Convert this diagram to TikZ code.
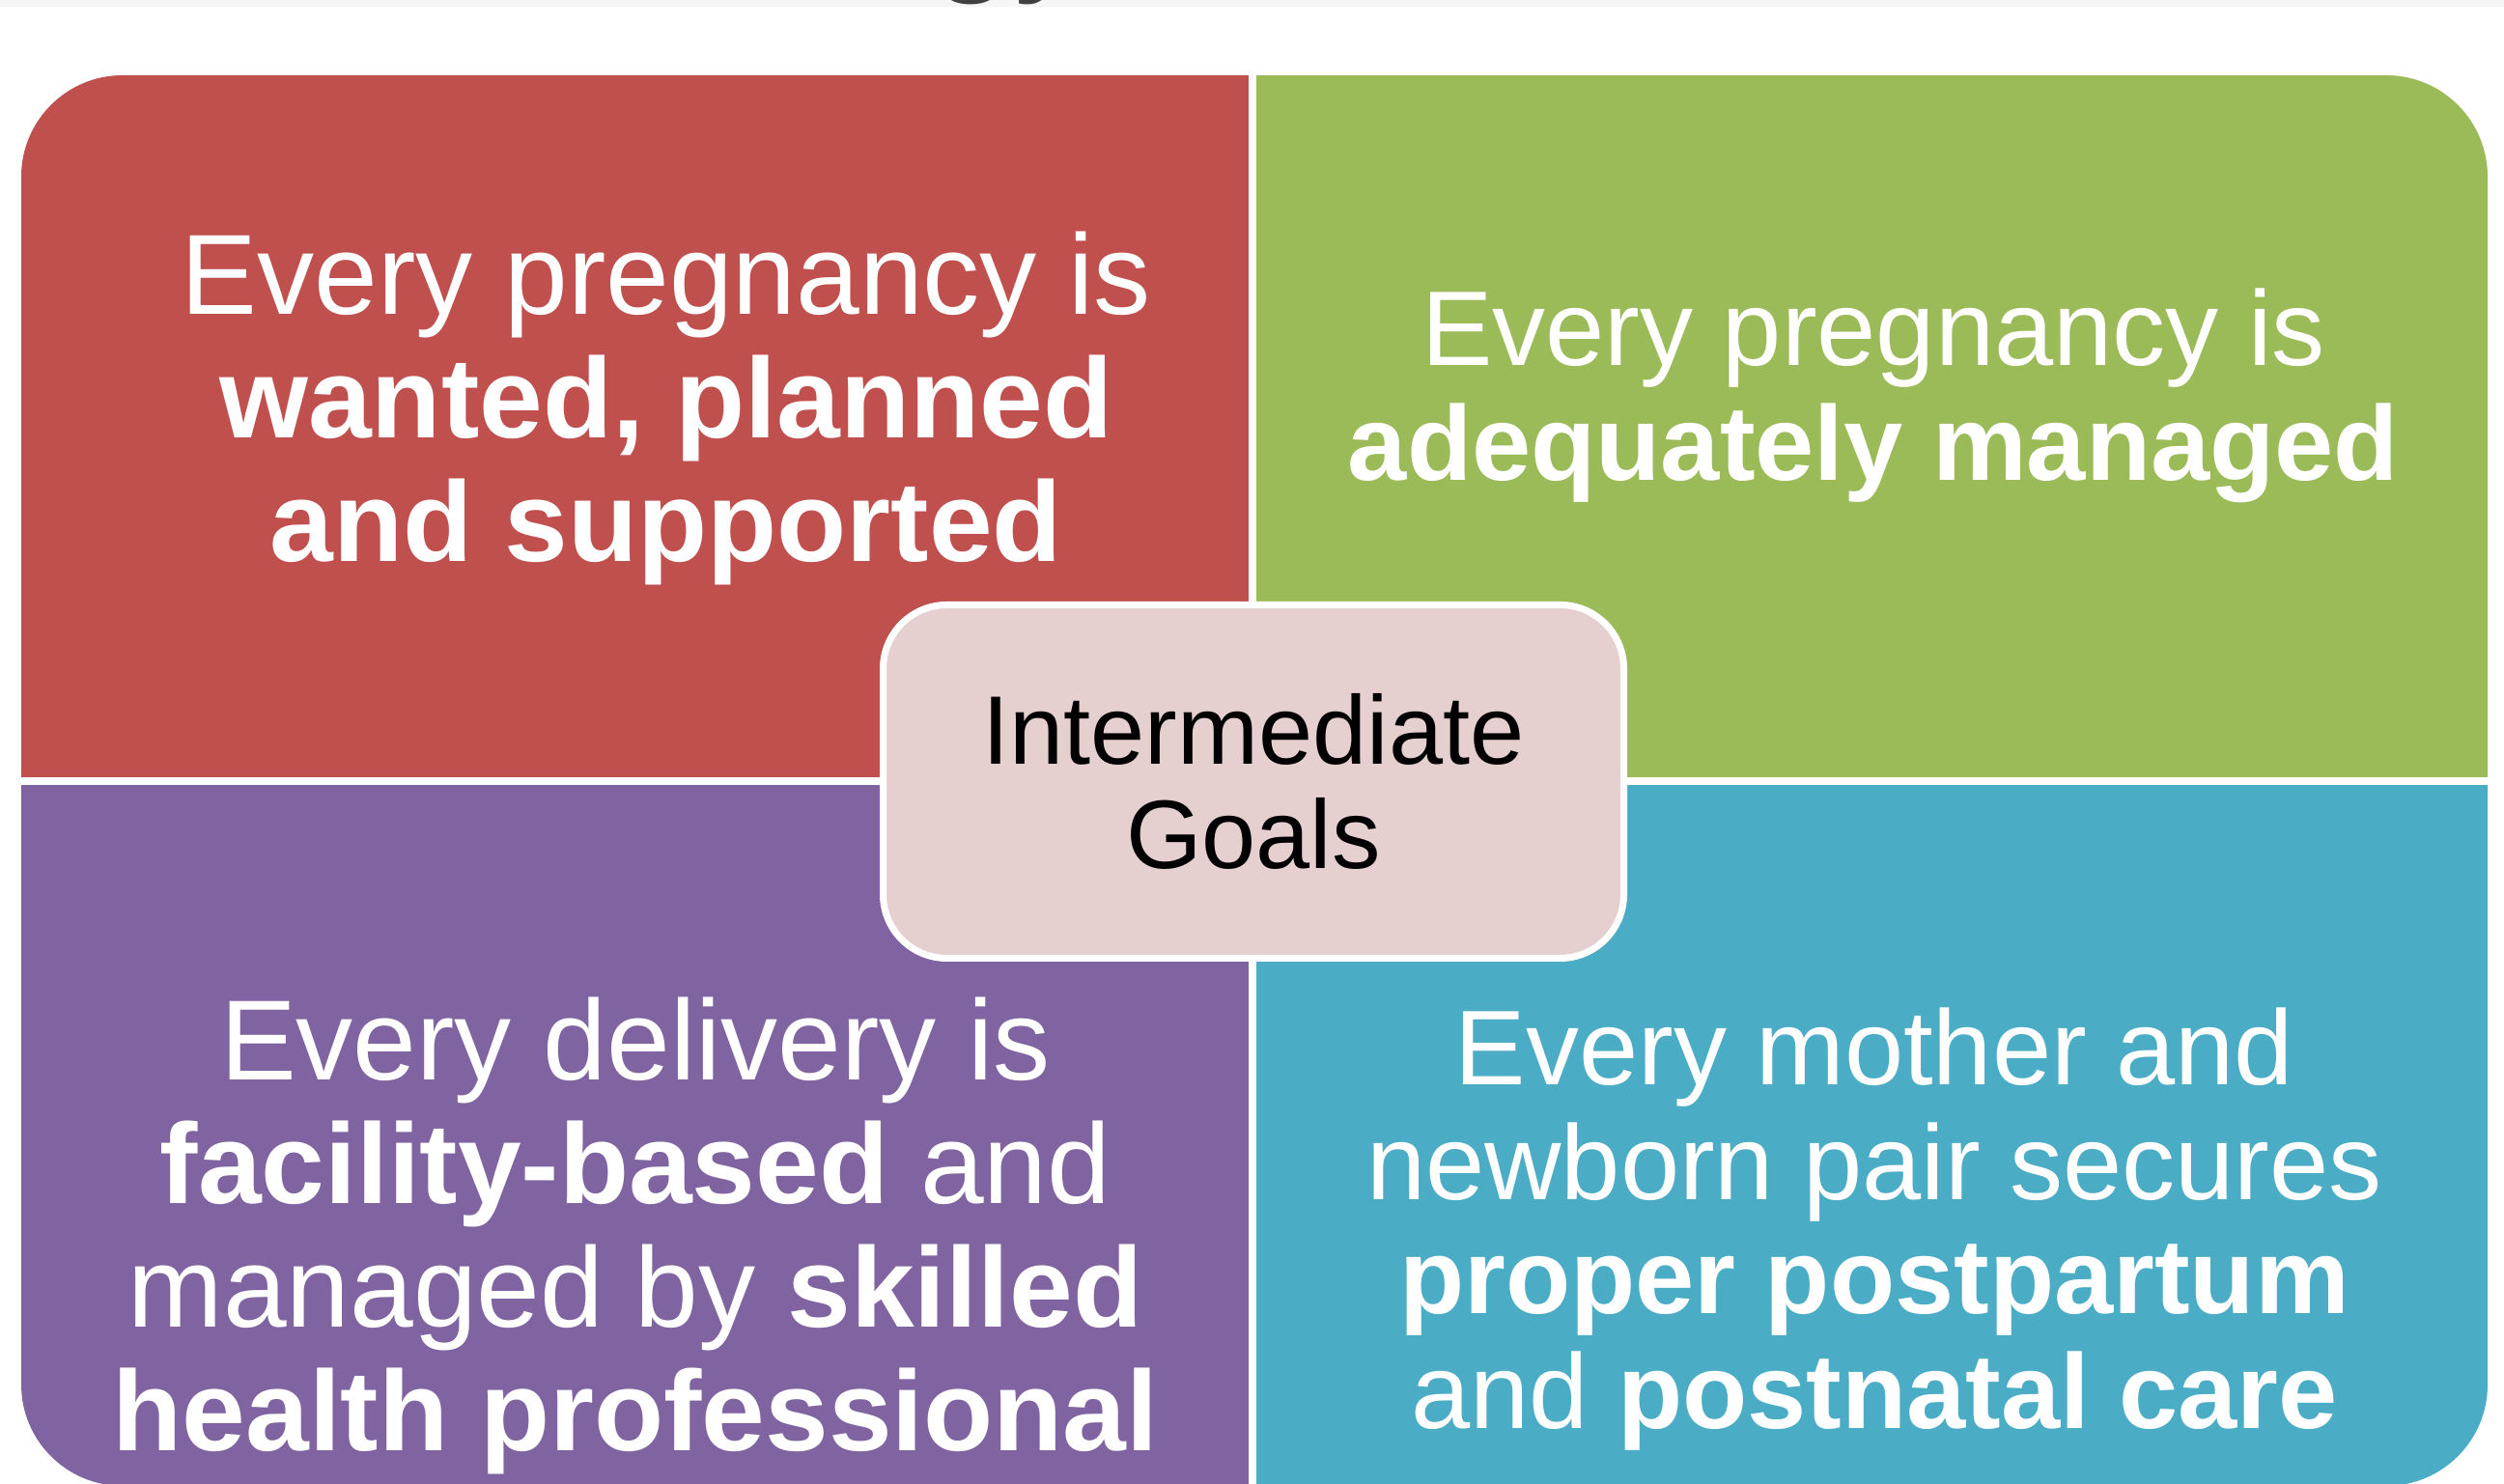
\documentclass[tikz,border=0pt]{standalone}
\usepackage{fontspec}
\setmainfont{Liberation Sans}
\definecolor{qred}{HTML}{C0504D}
\definecolor{qgreen}{HTML}{9BBB59}
\definecolor{qpurple}{HTML}{8064A2}
\definecolor{qblue}{HTML}{4BACC6}
\definecolor{cpink}{HTML}{E6CFCF}
\definecolor{titlegray}{HTML}{404040}
\definecolor{bandgray}{HTML}{F6F6F6}
\begin{document}
\begin{tikzpicture}
\tikzset{
  bigtxt/.style={text=white, align=center, inner sep=0pt, font=\fontsize{33.6pt}{36.4pt}\selectfont},
  midtxt/.style={text=white, align=center, inner sep=0pt, font=\fontsize{31.3pt}{33.8pt}\selectfont},
  centerbox/.style={draw=white, line width=0.07cm, fill=cpink, rounded corners=0.66cm,
    minimum width=7.67cm, minimum height=3.66cm, align=center, inner sep=0pt,
    font=\fontsize{28.7pt}{30.7pt}\selectfont, text=black}
}
\useasboundingbox (0,0) rectangle (25.93,15.37);
\fill[white] (0,0) rectangle (25.93,15.37);
% faint top band and clipped title fragment
\begin{scope}
\clip (0,0) rectangle (25.93,15.37);
\fill[bandgray] (0,15.30) rectangle (25.93,15.37);
\node[anchor=base west, inner sep=0pt, text=titlegray, font=\fontsize{44.4pt}{48pt}\selectfont] (title) at (9.63,15.64) {gy};
\end{scope}
% quadrants
\begin{scope}
\clip[rounded corners=1.05cm] (0.22,-0.02) rectangle (25.76,14.59);
\fill[qred] (0,7.32) rectangle (12.93,15);
\fill[qgreen] (13.01,7.32) rectangle (26,15);
\fill[qpurple] (0,-0.1) rectangle (12.93,7.24);
\fill[qblue] (13.01,-0.1) rectangle (26,7.24);
\end{scope}
% texts
\node[bigtxt] (tl) at (6.90,11.144) {Every pregnancy is\\\textbf{wanted, planned}\\\textbf{and supported}};
\node[midtxt] (tr) at (19.40,11.27) {Every pregnancy is\\\textbf{adequately managed}};
\node[bigtxt] (bl) at (6.58,2.57) {Every delivery is\\\textbf{facility-based} and\\managed by \textbf{skilled}\\\textbf{health professional}};
\node[midtxt] (br) at (19.41,2.64) {Every mother and\\newborn pair secures\\\textbf{proper postpartum}\\and \textbf{postnatal care}};
\node[centerbox] (goals) at (12.98,7.275) {Intermediate\\Goals};
\end{tikzpicture}
\end{document}
